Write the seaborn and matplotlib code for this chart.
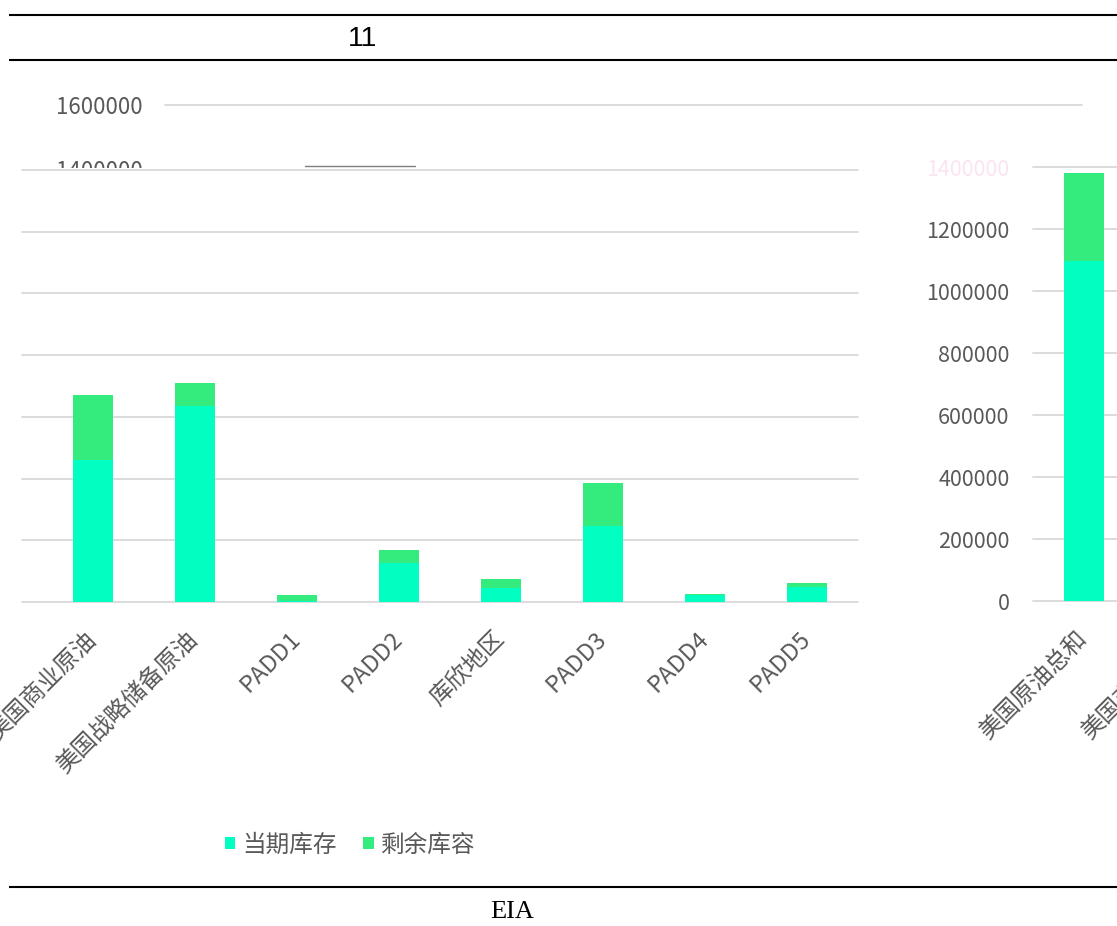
import numpy as np
import pandas as pd
import matplotlib
matplotlib.use("Agg")
import matplotlib.pyplot as plt
import seaborn as sns
from matplotlib.patches import Patch, Rectangle

# ---------------- data (thousand barrels) ----------------
left_categories = ["美国商业原油", "美国战略储备原油", "PADD1", "PADD2",
                   "库欣地区", "PADD3", "PADD4", "PADD5"]
left_current = [461000, 635500, 2000, 125800, 45200, 245200, 24000, 48400]
left_remaining = [210000, 74200, 22000, 41900, 29000, 141900, 1500, 12900]

right_categories = ["美国原油总和", "美国商业原油"]
right_current = [1096800]
right_remaining = [283800]

y_ticks = [0, 200000, 400000, 600000, 800000, 1000000, 1200000, 1400000]
legend_labels = ["当期库存", "剩余库容"]

top_fragment_labels = ["1600000", "1400000"]
page_number = "11"
source_text = "EIA"

# ---------------- style ----------------
CUR = "#00FFC0"
REM = "#34EC7E"
GRID = "#D9D9D9"
TXT = "#595959"

sns.set_theme(style="white")
plt.rcParams["font.family"] = ["Noto Sans CJK SC", "DejaVu Sans"]

W, H = 1117, 926
fig = plt.figure(figsize=(W / 100, H / 100), dpi=100)
fig.patch.set_facecolor("white")

# ---------------- background / page decorations (pixel coords) ----------------
bg = fig.add_axes([0, 0, 1, 1], zorder=0)
bg.set_xlim(0, W)
bg.set_ylim(H, 0)
bg.axis("off")
bg.plot([9, W], [15, 15], color="black", lw=1.5, solid_capstyle="butt")
bg.plot([9, W], [60, 60], color="black", lw=1.5, solid_capstyle="butt")
bg.text(363, 39, page_number, fontsize=20.5, family=["Liberation Sans", "DejaVu Sans"],
        ha="center", va="center", color="black")
bg.text(143, 108, top_fragment_labels[0], fontsize=16, ha="right", va="center", color=TXT)
bg.plot([165, 1082], [105, 105], color=GRID, lw=1.3)
bg.text(143, 171, top_fragment_labels[1], fontsize=16, ha="right", va="center", color=TXT)
bg.plot([305, 415], [165.5, 165.5], color="#7F7F7F", lw=1.0)
bg.add_patch(Rectangle((0, 167.5), W, 712, facecolor="white", edgecolor="none", zorder=4))
bg.plot([9, W], [887, 887], color="black", lw=1.5, solid_capstyle="butt", zorder=6)
bg.text(512, 912, source_text, fontsize=19, family=["Liberation Serif", "DejaVu Serif"],
        ha="center", va="center", color="black", zorder=6)

def style_axes(ax):
    for s in ax.spines.values():
        s.set_visible(False)
    ax.set_facecolor("none")
    ax.set_ylim(0, 1400000)
    ax.set_yticks(y_ticks)
    ax.yaxis.grid(True, color=GRID, lw=1.3)
    ax.xaxis.grid(False)
    ax.set_axisbelow(True)
    for gl in ax.get_ygridlines():
        gl.set_clip_on(False)
    ax.set_xlabel("")
    ax.set_ylabel("")
    ax.tick_params(axis="x", length=0, pad=24, labelsize=17, labelcolor=TXT)
    for lab in ax.get_xticklabels():
        lab.set_rotation(45)
        lab.set_ha("right")
        lab.set_va("center")
        lab.set_rotation_mode("anchor")

# ---------------- left chart ----------------
left_total = [c + r for c, r in zip(left_current, left_remaining)]
axL = fig.add_axes([22 / W, 1 - 602 / H, (858 - 22) / W, (602 - 170) / H], zorder=2)
sns.barplot(x=left_categories, y=left_total, order=left_categories, color=REM,
            saturation=1, width=0.4, linewidth=0, ax=axL)
sns.barplot(x=left_categories, y=left_current, order=left_categories, color=CUR,
            saturation=1, width=0.4, linewidth=0, ax=axL)
axL.set_xlim(-0.696, 7.5)
axL.set_xticks(range(len(left_categories)))
axL.set_xticklabels(left_categories)
style_axes(axL)
axL.set_yticklabels([])
axL.tick_params(axis="y", length=0)

# ---------------- right chart ----------------
right_total = [c + r for c, r in zip(right_current, right_remaining)]
axR = fig.add_axes([1033 / W, 1 - 601 / H, 204 / W, (601 - 167) / H], zorder=2)
sns.barplot(x=right_categories[:1], y=right_total, color=REM,
            saturation=1, width=0.4, linewidth=0, ax=axR)
sns.barplot(x=right_categories[:1], y=right_current, color=CUR,
            saturation=1, width=0.4, linewidth=0, ax=axR)
axR.set_xlim(-0.5, 1.5)
axR.set_xticks(range(len(right_categories)))
axR.set_xticklabels(right_categories)
style_axes(axR)
axR.set_yticklabels([str(v) for v in y_ticks])
axR.tick_params(axis="y", length=0, pad=17, labelsize=15.5, labelcolor=TXT)
axR.get_yticklabels()[-1].set_color("#FBE4F2")

# ---------------- legend ----------------
handles = [Patch(facecolor=CUR, edgecolor="none"), Patch(facecolor=REM, edgecolor="none")]
fig.legend(handles=handles, labels=legend_labels, loc="center",
           bbox_to_anchor=(350 / W, 1 - 845 / H), ncol=2, frameon=False,
           fontsize=17, handlelength=0.45, handleheight=0.45, handletextpad=0.3,
           columnspacing=1.1, labelcolor=TXT)

fig.savefig("out.png", dpi=100)
